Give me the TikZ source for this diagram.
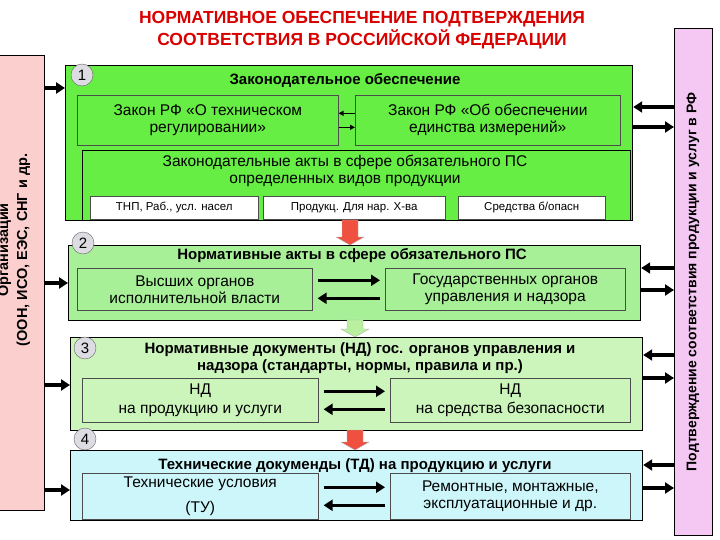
\documentclass[tikz,border=0pt]{standalone}
\usepackage{fontspec}
\setmainfont{Liberation Sans}
\usetikzlibrary{arrows.meta}
\begin{document}
\begin{tikzpicture}[x=1pt,y=-1pt,
 panel/.style={draw=black,line width=1.2pt},
 inner/.style={draw=black!70,line width=0.6pt,align=center,font=\fontsize{15.5}{17}\selectfont},
 wbox/.style={draw=black!70,fill=white,line width=0.5pt,font=\fontsize{11.5}{12}\selectfont},
 num/.style={circle,draw=black!60,fill=blue!10!gray!25,minimum size=22pt,inner sep=0pt,font=\fontsize{15}{15}\selectfont},
 head/.style={font=\bfseries\fontsize{15}{17}\selectfont,align=center},
 thick arr/.style={line width=3.5pt,-{Triangle[length=9pt,width=11pt]}},
 thin arr/.style={line width=1.5pt,-{Triangle[length=5pt,width=5pt]}}]
\useasboundingbox (0,0) rectangle (720,540);
\definecolor{g1}{HTML}{66EE44}\definecolor{g2}{HTML}{A8F098}\definecolor{g3}{HTML}{CCF5BC}\definecolor{c4}{HTML}{CCF6FA}
\definecolor{lpink}{HTML}{FACFCD}\definecolor{rpink}{HTML}{F4C8F2}\definecolor{rarr}{HTML}{F05040}\definecolor{garr}{HTML}{B8F0A0}
\node[text=red!85!black,font=\bfseries\fontsize{17.5}{22}\selectfont,align=center] (title) at (362,30) {НОРМАТИВНОЕ ОБЕСПЕЧЕНИЕ ПОДТВЕРЖДЕНИЯ\\СООТВЕТСТВИЯ В РОССИЙСКОЙ ФЕДЕРАЦИИ};
% side panels
\node[panel,fill=lpink,minimum width=45pt,minimum height=455pt,anchor=north west,inner sep=0pt] (L) at (-1,55) {};
\node[rotate=90,font=\bfseries\fontsize{14.5}{19}\selectfont,align=center] (Lt) at (14,250) {Организации\\(ООН, ИСО, ЕЭС, СНГ и др.};
\node[panel,fill=rpink,minimum width=38pt,minimum height=507pt,anchor=north west,inner sep=0pt] (R) at (674,28) {};
\node[rotate=90,font=\bfseries\fontsize{14}{15}\selectfont] (Rt) at (693,282) {Подтверждение соответствия продукции и услуг в РФ};
% box 1
\node[panel,fill=g1,minimum width=567pt,minimum height=155pt,anchor=north west,inner sep=0pt] (B1) at (65,65) {};
\node[head,anchor=north] (h1) at (345,70) {Законодательное обеспечение};
\node[inner,minimum width=261pt,minimum height=50pt,anchor=north west,inner sep=0pt] (a1) at (77,95) {Закон РФ «О техническом\\регулировании»};
\node[inner,minimum width=265pt,minimum height=50pt,anchor=north west,inner sep=0pt] (a2) at (355,95) {Закон РФ «Об обеспечении\\единства измерений»};
\node[inner,draw=black,line width=0.9pt,minimum width=548pt,minimum height=70pt,anchor=north west,inner sep=0pt] (a3) at (82,150) {};
\node[font=\fontsize{15.5}{17}\selectfont,align=center,anchor=north] (a3t) at (345,152) {Законодательные акты в сфере обязательного ПС\\определенных видов продукции};
\node[wbox,minimum width=168pt,minimum height=23pt,anchor=north west,inner sep=0pt] (w1) at (90,196) {ТНП, Раб., усл. насел};
\node[wbox,minimum width=182pt,minimum height=23pt,anchor=north west,inner sep=0pt] (w2) at (263,196) {Продукц. Для нар. Х-ва};
\node[wbox,minimum width=147pt,minimum height=23pt,anchor=north west,inner sep=0pt] (w3) at (458,196) {Средства б/опасн};
\node[num] (n1) at (82,75) {1};
\draw[thin arr] ([yshift=7]a2.west) -- ([yshift=7]a1.east);
\draw[thin arr] ([yshift=-7]a1.east) -- ([yshift=-7]a2.west);
% box 2
\node[panel,fill=g2,minimum width=572pt,minimum height=75pt,anchor=north west,inner sep=0pt] (B2) at (68,245) {};
\node[head] (h2) at (352,256) {Нормативные акты в сфере обязательного ПС};
\node[inner,minimum width=235pt,minimum height=42pt,anchor=north west,inner sep=0pt] (b1) at (77,268) {Высших органов\\исполнительной власти};
\node[inner,minimum width=240pt,minimum height=42pt,anchor=north west,inner sep=0pt] (b2) at (385,268) {Государственных органов\\управления и надзора};
\node[num] (n2) at (83,243) {2};
% box 3
\node[panel,fill=g3,minimum width=572pt,minimum height=93pt,anchor=north west,inner sep=0pt] (B3) at (70,337) {};
\node[head] (h3) at (360,358) {Нормативные документы (НД) гос. органов управления и\\надзора (стандарты, нормы, правила и пр.)};
\node[inner,minimum width=236pt,minimum height=44pt,anchor=north west,inner sep=0pt] (c1) at (82,378) {НД\\[2pt]на продукцию и услуги};
\node[inner,minimum width=240pt,minimum height=44pt,anchor=north west,inner sep=0pt] (c2) at (390,378) {НД\\[2pt]на средства безопасности};
\node[num] (n3) at (85,348) {3};
% box 4
\node[panel,fill=c4,minimum width=572pt,minimum height=70pt,anchor=north west,inner sep=0pt] (B4) at (70,450) {};
\node[head] (h4) at (355,466) {Технические докуменды (ТД) на продукцию и услуги};
\node[inner,minimum width=236pt,minimum height=46pt,anchor=north west,inner sep=0pt] (d1) at (82,473) {Технические условия\\[8pt](ТУ)};
\node[inner,minimum width=240pt,minimum height=46pt,anchor=north west,inner sep=0pt] (d2) at (390,473) {Ремонтные, монтажные,\\эксплуатационные и др.};
\node[num] (n4) at (85,439) {4};
% inner arrows
\foreach \p/\q in {b1/b2,c1/c2,d1/d2}{
 \draw[thick arr] ([yshift=9]\p.east)++(5,0) -- ([yshift=9,xshift=-5]\q.west);
 \draw[thick arr] ([yshift=-9]\q.west)++(-5,0) -- ([yshift=-9,xshift=5]\p.east);
}
% left arrows
\foreach \b/\y in {B1/88,B2/283,B3/385,B4/490}{
 \coordinate (ls\b) at (45,\y); \coordinate (le\b) at (\b.west|-ls\b);
 \draw[thick arr] (ls\b) -- (le\b);}
% right arrows
\foreach \b/\ya/\yb in {B1/107/127,B2/268/290,B3/355/378,B4/465/488}{
 \coordinate (ra\b) at (674,\ya); \coordinate (rb\b) at (674,\yb);
 \draw[thick arr] (ra\b) -- (\b.east|-ra\b);
 \draw[thick arr] (\b.east|-rb\b) -- (rb\b);}
% block arrows down
\foreach \x/\ya/\yb/\c in {350/220/245/rarr,355/320/337/garr,355/430/450/rarr}{
 \fill[\c,draw=gray!60] (\x-8,\ya) -- (\x+8,\ya) -- (\x+8,\yb-8) -- (\x+14,\yb-8) -- (\x,\yb) -- (\x-14,\yb-8) -- (\x-8,\yb-8) -- cycle;}
\end{tikzpicture}
\end{document}
